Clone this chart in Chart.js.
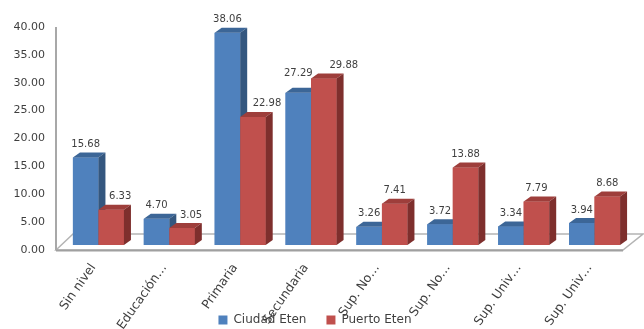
<!DOCTYPE html>
<html>
<head>
<meta charset="utf-8">
<script src="https://cdn.jsdelivr.net/npm/chart.js@4.4.1/dist/chart.umd.min.js"></script>
<style>
  html, body { margin: 0; padding: 0; background: #fff; }
  #chart { display: block; }
</style>
</head>
<body>
<canvas id="chart" width="644" height="329"></canvas>
<script>
// --- Data ---
const categories = ['Sin nivel', 'Educación…', 'Primaria', 'Secundaria', 'Sup. No…', 'Sup. No…', 'Sup. Univ…', 'Sup. Univ…'];
const ciudadEten = [15.68, 4.70, 38.06, 27.29, 3.26, 3.72, 3.34, 3.94];
const puertoEten = [6.33, 3.05, 22.98, 29.88, 7.41, 13.88, 7.79, 8.68];
const seriesNames = ['Ciudad Eten', 'Puerto Eten'];

// value labels that were nudged aside so they don't collide
const labelNudgeX = [[0, 0, 0, 0, 0, 0, 0, 0], [9, 9, 14, 20, 0, 0, 0, 0]];
const labelNudgeY = [[0, 0, 0, -6, 0, 0, 0, 0], [0, 0, 0, 0, 0, 0, 0, 0]];

const FONT = "'DejaVu Sans', sans-serif";
const TEXT = '#3f3f3f';
const LABEL_ANGLE = 55;

// front / top / side shades per series
const shades = [
  { front: '#4f81bd', top: '#3c6697', side: '#34577f' },
  { front: '#c0504d', top: '#9e3e3b', side: '#7e2f2d' }
];

// depth of each bar and of the floor, in pixels
const BAR_DX = 7, BAR_DY = -5;
const FLOOR_DX = 17, FLOOR_DY = -16;
const FLOOR_SHIFT = 7; // floor front edge sits left/below the bar fronts

// Draws the 3D floor, left axis line, extruded bars and value labels
const bars3d = {
  id: 'bars3d',
  beforeDatasetsDraw(chart) {
    const { ctx, chartArea, scales } = chart;
    const y0 = scales.y.getPixelForValue(0) + 5;
    const yTop = scales.y.getPixelForValue(40) + 5;
    const l = chartArea.left - FLOOR_SHIFT;
    const r = chartArea.right - FLOOR_SHIFT;
    ctx.save();
    // floor
    ctx.beginPath();
    ctx.moveTo(l, y0);
    ctx.lineTo(l + FLOOR_DX, y0 + FLOOR_DY);
    ctx.lineTo(r + FLOOR_DX + 3, y0 + FLOOR_DY);
    ctx.lineTo(r, y0);
    ctx.closePath();
    ctx.fillStyle = '#ffffff';
    ctx.fill();
    ctx.strokeStyle = '#b4b4b4';
    ctx.lineWidth = 1.5;
    ctx.stroke();
    // front edge of floor
    ctx.beginPath();
    ctx.moveTo(l, y0 + 0.5);
    ctx.lineTo(r, y0 + 0.5);
    ctx.strokeStyle = '#a0a0a0';
    ctx.lineWidth = 2;
    ctx.stroke();
    // vertical axis line
    ctx.beginPath();
    ctx.moveTo(l, yTop);
    ctx.lineTo(l, y0);
    ctx.strokeStyle = '#a8a8a8';
    ctx.lineWidth = 2;
    ctx.stroke();
    ctx.restore();
  },
  afterDatasetsDraw(chart) {
    const { ctx } = chart;
    const metas = chart.data.datasets.map((d, i) => chart.getDatasetMeta(i));
    ctx.save();
    for (let j = 0; j < categories.length; j++) {
      metas.forEach((meta, i) => {
        const bar = meta.data[j];
        const c = shades[i];
        const left = bar.x - bar.width / 2;
        const right = bar.x + bar.width / 2;
        const top = bar.y;
        const base = bar.base;
        // front
        ctx.fillStyle = c.front;
        ctx.fillRect(left, top, right - left, base - top);
        // top
        ctx.beginPath();
        ctx.moveTo(left, top);
        ctx.lineTo(left + BAR_DX, top + BAR_DY);
        ctx.lineTo(right + BAR_DX, top + BAR_DY);
        ctx.lineTo(right, top);
        ctx.closePath();
        ctx.fillStyle = c.top;
        ctx.fill();
        // side
        ctx.beginPath();
        ctx.moveTo(right, top);
        ctx.lineTo(right + BAR_DX, top + BAR_DY);
        ctx.lineTo(right + BAR_DX, base + BAR_DY);
        ctx.lineTo(right, base);
        ctx.closePath();
        ctx.fillStyle = c.side;
        ctx.fill();
      });
    }
    // value labels
    ctx.font = '10px ' + FONT;
    ctx.fillStyle = TEXT;
    ctx.textAlign = 'center';
    ctx.textBaseline = 'bottom';
    metas.forEach((meta, i) => {
      const values = chart.data.datasets[i].data;
      meta.data.forEach((bar, j) => {
        ctx.fillText(values[j].toFixed(2),
          bar.x + labelNudgeX[i][j],
          bar.y + BAR_DY - 3 + labelNudgeY[i][j]);
      });
    });
    ctx.restore();
  }
};

new Chart(document.getElementById('chart'), {
  type: 'bar',
  data: {
    labels: categories,
    datasets: [
      { label: seriesNames[0], data: ciudadEten, backgroundColor: shades[0].front },
      { label: seriesNames[1], data: puertoEten, backgroundColor: shades[1].front }
    ]
  },
  options: {
    responsive: false,
    animation: false,
    layout: { padding: { top: 22, right: 14, left: 0, bottom: -7 } },
    categoryPercentage: 0.72,
    barPercentage: 1.0,
    scales: {
      x: {
        grid: { display: false },
        border: { display: false },
        ticks: {
          minRotation: LABEL_ANGLE, maxRotation: LABEL_ANGLE, padding: 8, labelOffset: -5,
          color: TEXT, font: { family: FONT, size: 12.5 }
        },
        afterCalculateLabelRotation(scale) { scale.labelRotation = LABEL_ANGLE; },
        afterFit(scale) {
          scale.height = 49;
          // rotated labels run down past the axis box
          scale._computeLabelArea = () => null;
        }
      },
      y: {
        min: 0, max: 40,
        grid: { display: false, drawTicks: false },
        border: { display: false },
        ticks: {
          stepSize: 5, padding: 18, labelOffset: 5,
          color: TEXT, font: { family: FONT, size: 11 },
          callback: v => v.toFixed(2)
        },
        afterFit(scale) {
          scale.width = 63;
          scale.paddingTop = 0;
          scale.paddingBottom = 0;
        }
      }
    },
    plugins: {
      legend: {
        position: 'bottom',
        labels: {
          boxWidth: 9, boxHeight: 9, padding: 20,
          color: TEXT, font: { family: FONT, size: 12 }
        }
      },
      tooltip: { enabled: false }
    }
  },
  plugins: [bars3d]
});
</script>
</body>
</html>
